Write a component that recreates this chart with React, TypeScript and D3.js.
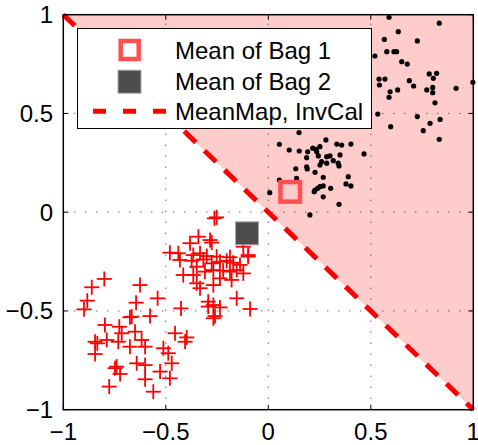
import React from "react";
import * as d3 from "d3";

const bag1X = [0.589,0.834,0.634,0.566,0.727,0.578,0.613,0.626,0.520,0.651,0.678,0.785,0.821,0.805,0.998,0.540,0.569,0.542,0.688,0.709,0.594,0.631,0.589,0.773,0.802,0.802,0.916,0.813,0.534,0.727,0.838,0.789,0.597,0.756,0.834,
  0.150,0.054,0.102,0.151,0.192,0.217,0.252,0.281,0.236,0.334,0.358,0.403,0.467,0.244,0.285,0.301,0.317,0.187,0.350,0.260,0.285,0.252,0.341,0.345,0.187,0.190,0.134,0.228,0.268,0.390,0.054,0.379,0.403,0.304,0.228,0.241,0.252,0.268,0.224,0.268,0.007,0.345,0.203,0.138,0.233];
const bag1Y = [0.987,0.957,0.914,0.875,0.867,0.813,0.813,0.813,0.791,0.762,0.750,0.700,0.703,0.678,0.658,0.674,0.674,0.644,0.666,0.639,0.610,0.619,0.582,0.619,0.632,0.605,0.627,0.554,0.497,0.484,0.470,0.450,0.433,0.413,0.369,
  0.403,0.344,0.315,0.310,0.306,0.324,0.332,0.366,0.306,0.345,0.340,0.345,0.295,0.285,0.281,0.285,0.261,0.276,0.290,0.256,0.248,0.239,0.248,0.234,0.230,0.219,0.220,0.202,0.177,0.180,0.163,0.143,0.133,0.121,0.112,0.121,0.129,0.133,0.104,0.078,0.099,0.040,-0.014,0.172,0.318];

const bag2X = [-0.263,-0.252,-0.341,-0.284,-0.382,-0.276,-0.480,-0.439,-0.366,-0.333,-0.300,-0.252,-0.187,-0.098,-0.122,-0.431,-0.374,-0.317,-0.276,-0.236,-0.203,-0.171,-0.138,-0.268,-0.220,-0.187,-0.154,-0.122,-0.415,-0.366,-0.309,-0.236,-0.179,-0.349,-0.333,-0.268,-0.154,-0.293,-0.268,-0.236,-0.260,-0.268,-0.089,-0.426,-0.800,-0.861,-0.883,-0.899,-0.626,-0.540,-0.645,-0.577,-0.666,-0.675,-0.797,-0.727,-0.715,-0.650,-0.845,-0.834,-0.788,-0.732,-0.618,-0.601,-0.675,-0.845,-0.455,-0.398,-0.406,-0.512,-0.488,-0.471,-0.642,-0.601,-0.740,-0.748,-0.723,-0.528,-0.480,-0.601,-0.776,-0.561,-0.349,-0.293,-0.098];
const bag2Y = [-0.031,-0.026,-0.124,-0.141,-0.157,-0.154,-0.205,-0.208,-0.217,-0.208,-0.222,-0.225,-0.228,-0.217,-0.175,-0.242,-0.246,-0.239,-0.259,-0.251,-0.246,-0.256,-0.267,-0.293,-0.296,-0.301,-0.293,-0.310,-0.318,-0.318,-0.301,-0.335,-0.343,-0.360,-0.385,-0.369,-0.436,-0.453,-0.470,-0.482,-0.526,-0.537,-0.490,-0.487,-0.338,-0.380,-0.448,-0.492,-0.369,-0.436,-0.458,-0.526,-0.529,-0.532,-0.571,-0.580,-0.613,-0.605,-0.656,-0.664,-0.647,-0.656,-0.647,-0.681,-0.681,-0.718,-0.613,-0.634,-0.656,-0.689,-0.714,-0.765,-0.765,-0.774,-0.782,-0.790,-0.819,-0.807,-0.841,-0.846,-0.883,-0.909,-0.276,-0.478,-0.225];

const mean1 = [0.107, 0.103];
const mean2 = [-0.104, -0.107];
const ticks = [-1, -0.5, 0, 0.5, 1];
const gridTicks = [-0.5, 0, 0.5];
const tickLabels = ["\u22121", "\u22120.5", "0", "0.5", "1"];
const legendLabels = ["Mean of Bag 1", "Mean of Bag 2", "MeanMap, InvCal"];

export default function App() {
  const x = d3.scaleLinear().domain([-1, 1]).range([63.3, 473.3]);
  const y = d3.scaleLinear().domain([-1, 1]).range([409.7, 14.7]);
  const font = "'Liberation Sans', Arial, Helvetica, sans-serif";
  const tri = d3.line()([[x(-1), y(1)], [x(1), y(1)], [x(1), y(-1)]]) + "Z";
  const boundary = d3.line()([[x(-1), y(1)], [x(1), y(-1)]]);
  const red1 = "rgb(255,80,80)";
  const gray2 = "#4d4d4d";
  const sq = 19.5;
  const legRows = [50, 81.7, 111.2];
  const arm = 7.5;
  return (
    <svg width={478} height={445} style={{ position: "fixed", left: 0, top: 0, background: "#fff" }} fontFamily={font}>
      <rect x={0} y={0} width={478} height={445} fill="#fff" />
      <path d={tri} fill="#ffcccc" />
      {gridTicks.map((t) => (
        <g key={"g" + t}>
          <line x1={x(t)} x2={x(t)} y1={y(-1)} y2={y(1)} stroke="#222" strokeWidth={1} strokeDasharray="1,10" />
          <line x1={x(-1)} x2={x(1)} y1={y(t)} y2={y(t)} stroke="#222" strokeWidth={1} strokeDasharray="1,10" />
        </g>
      ))}
      {bag2X.map((v, i) => (
        <g key={"c" + i} stroke="#ff0000" strokeWidth={1.8}>
          <line x1={x(v) - arm} x2={x(v) + arm} y1={y(bag2Y[i])} y2={y(bag2Y[i])} />
          <line x1={x(v)} x2={x(v)} y1={y(bag2Y[i]) - arm} y2={y(bag2Y[i]) + arm} />
        </g>
      ))}
      {bag1X.map((v, i) => (
        <circle key={"d" + i} cx={x(v)} cy={y(bag1Y[i])} r={2.6} fill="#000" />
      ))}
      <path d={boundary!} stroke="#ff0000" strokeWidth={5} strokeDasharray="16,12" fill="none" />
      <rect x={x(mean1[0]) - sq / 2} y={y(mean1[1]) - sq / 2} width={sq} height={sq} fill="none" stroke={red1} strokeWidth={4.5} />
      <rect x={x(mean2[0]) - 11.5} y={y(mean2[1]) - 11.5} width={23} height={23} fill={gray2} stroke="#aaa" strokeWidth={1} />
      <rect x={x(-1)} y={y(1)} width={x(1) - x(-1)} height={y(-1) - y(1)} fill="none" stroke="#000" strokeWidth={1.5} />
      {ticks.map((t) => (
        <g key={"t" + t} stroke="#000" strokeWidth={1}>
          <line x1={x(t)} x2={x(t)} y1={y(-1)} y2={y(-1) - 5} />
          <line x1={x(t)} x2={x(t)} y1={y(1)} y2={y(1) + 5} />
          <line x1={x(-1)} x2={x(-1) + 5} y1={y(t)} y2={y(t)} />
          <line x1={x(1)} x2={x(1) - 5} y1={y(t)} y2={y(t)} />
        </g>
      ))}
      {ticks.map((t, i) => (
        <text key={"xl" + t} x={x(t)} y={440} fontSize={24} textAnchor="middle" fill="#000">{tickLabels[i]}</text>
      ))}
      {ticks.map((t, i) => (
        <text key={"yl" + t} x={53} y={y(t) + 8.5} fontSize={24} textAnchor="end" fill="#000">{tickLabels[i]}</text>
      ))}
      <rect x={77.5} y={28.5} width={294} height={100} fill="#fff" stroke="#000" strokeWidth={1} />
      <rect x={129.7 - 9} y={legRows[0] - 9} width={18} height={18} fill="none" stroke={red1} strokeWidth={4.5} />
      <rect x={129.5 - 11.5} y={legRows[1] - 11.5} width={23} height={23} fill={gray2} stroke="#aaa" strokeWidth={1} />
      <line x1={93} x2={166} y1={legRows[2]} y2={legRows[2]} stroke="#ff0000" strokeWidth={5} strokeDasharray="13,17" />
      {legendLabels.map((l, i) => (
        <text key={l} x={175} y={legRows[i] + 8.5} fontSize={24} fill="#000">{l}</text>
      ))}
    </svg>
  );
}
